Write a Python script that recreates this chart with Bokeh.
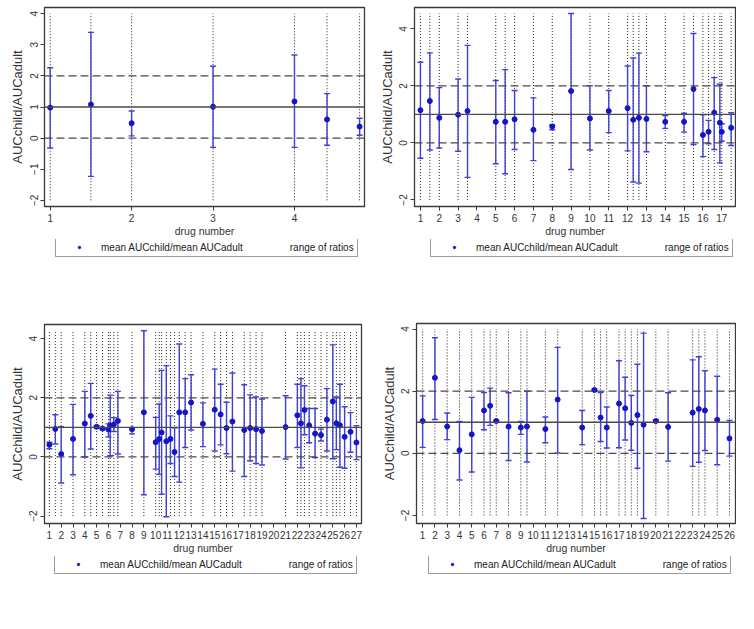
from bokeh.plotting import figure
from bokeh.models import Range1d, Span, Legend, LegendItem, Label, FixedTicker
from bokeh.layouts import column, row
from bokeh.embed import file_html
from bokeh.resources import INLINE

# ---------------- data ----------------
# Panel A
a_drug = [1, 1.5, 2, 3, 4, 4.4, 4.8]
a_mean = [0.98, 1.08, 0.48, 1.01, 1.18, 0.60, 0.37]
a_low = [-0.32, -1.23, 0.07, -0.30, -0.30, -0.23, 0.09]
a_high = [2.26, 3.40, 0.87, 2.31, 2.67, 1.43, 0.64]
a_xticks = [1, 2, 3, 4]
a_yticks = [-2, -1, 0, 1, 2, 3, 4]

# Panel B
b_drug = [1, 1.5, 2, 3, 3.5, 5, 5.5, 6, 7, 8, 9, 10, 11, 12, 12.3, 12.6, 13,
          14, 15, 15.5, 16, 16.3, 16.6, 16.9, 17, 17.5]
b_mean = [1.15, 1.47, 0.88, 0.99, 1.12, 0.74, 0.74, 0.83, 0.46, 0.58, 1.82, 0.86,
          1.12, 1.22, 0.81, 0.88, 0.84, 0.74, 0.74, 1.89, 0.28, 0.39, 1.06, 0.71,
          0.39, 0.53]
b_high = [2.83, 3.16, 1.94, 2.24, 3.42, 2.19, 2.57, 1.84, 1.58, 0.63, 4.54, 2.00,
          1.84, 2.70, 2.98, 3.15, 2.00, 0.96, 1.04, 3.84, 0.99, 0.79, 2.29, 2.06,
          0.67, 1.06]
b_low = [-0.54, -0.25, -0.18, -0.29, -1.21, -0.73, -1.08, -0.23, -0.62, 0.46, -0.93,
         -0.25, 0.36, -0.28, -1.37, -1.41, -0.31, 0.51, 0.38, -0.06, -0.48, -0.03,
         -0.23, -0.70, 0.06, -0.09]
b_xticks = list(range(1, 18))
b_yticks = [-2, 0, 2, 4]

# Panel C
c_drug = [1, 1.5, 2, 3, 4, 4.5, 5, 5.5, 6, 6.15, 6.45, 6.8, 8, 9, 10, 10.3, 10.5,
          10.9, 11.25, 11.6, 12, 12.5, 13, 14, 15, 15.5, 16, 16.5, 17.5, 18, 18.5,
          19, 21, 22, 22.3, 22.6, 23, 23.5, 24, 24.5, 25, 25.3, 25.6, 26, 26.5, 27]
c_mean = [0.41, 0.95, 0.10, 0.61, 1.13, 1.39, 1.02, 0.96, 0.93, 1.06, 1.10, 1.22,
          0.94, 1.51, 0.50, 0.61, 0.83, 0.53, 0.61, 0.17, 1.51, 1.51, 1.84, 1.12,
          1.60, 1.44, 0.98, 1.20, 0.91, 0.98, 0.94, 0.88, 1.01, 1.41, 1.14, 1.59,
          1.07, 0.79, 0.74, 1.26, 1.88, 1.14, 1.07, 0.68, 0.85, 0.49]
c_high = [0.50, 1.43, 1.02, 1.78, 2.22, 2.49, 1.06, 0.99, 1.12, 2.09, 1.33, 2.22,
          0.99, 4.27, 1.34, 1.79, 2.93, 3.09, 1.39, 0.99, 3.82, 2.65, 2.78, 1.83,
          2.97, 2.46, 1.85, 2.84, 2.44, 2.10, 2.03, 1.96, 2.07, 2.46, 2.65, 2.41,
          1.64, 1.64, 0.94, 2.31, 3.79, 2.03, 2.46, 1.70, 1.50, 1.06]
c_low = [0.28, 0.44, -0.88, -0.60, 0.00, 0.27, 0.98, 0.93, 0.68, 0.04, 0.86, 0.10,
         0.78, -1.28, -0.41, -0.59, -1.26, -2.02, -0.22, -0.66, -0.85, 0.32, 0.91,
         0.35, 0.20, 0.41, 0.11, -0.48, -0.66, -0.13, -0.22, -0.27, -0.07, 0.32,
         -0.37, 0.75, 0.48, -0.02, 0.54, 0.20, -0.06, 0.25, -0.35, -0.38, 0.16, -0.09]
c_xticks = list(range(1, 28))
c_yticks = [-2, 0, 2, 4]

# Panel D
d_drug = [1, 2, 3, 4, 5, 6, 6.5, 7, 8, 9, 9.5, 11, 12, 14, 15, 15.5, 16, 17, 17.5,
          18, 18.5, 19, 20, 21, 23, 23.5, 24, 25, 26]
d_mean = [1.04, 2.43, 0.86, 0.10, 0.61, 1.38, 1.53, 1.04, 0.86, 0.83, 0.86, 0.78,
          1.73, 0.83, 2.04, 1.15, 0.83, 1.60, 1.45, 0.98, 1.23, 0.92, 1.04, 0.85,
          1.31, 1.43, 1.38, 1.08, 0.48]
d_high = [1.85, 3.72, 1.30, 1.03, 1.80, 1.96, 2.10, 1.07, 1.95, 1.03, 2.00, 1.17,
          3.41, 1.38, 2.07, 1.96, 1.49, 2.98, 2.45, 1.86, 2.87, 3.87, 1.08, 1.95,
          3.01, 3.11, 2.66, 2.48, 1.06]
d_low = [0.19, 1.09, 0.44, -0.86, -0.60, 0.76, 0.90, 1.01, -0.23, 0.61, -0.28, 0.34,
         0.01, 0.28, 2.01, 0.38, 0.17, 0.18, 0.43, 0.10, -0.48, -2.10, 1.01, -0.25,
         -0.42, -0.29, 0.09, -0.37, -0.09]
d_xticks = list(range(1, 27))
d_yticks = [-2, 0, 2, 4]

ref_solid = [1]
ref_dashed = [0, 2]
dot_floor = -2
dot_ceiling_min = 4

legend_labels = ["mean AUCchild/mean AUCadult", "range of ratios"]
x_title = "drug number"
y_title = "AUCchild/AUCadult"

# ---------------- style ----------------
FONT = "Liberation Sans"
PT = "#1414c8"
BAR = "#4040d8"
DARK = "#3a3a3a"


def make_plot(drug, mean, low, high, xr, yr, xticks, yticks, width, height, bl, br, bt, bb):
    p = figure(width=width, height=height, x_range=Range1d(*xr), y_range=Range1d(*yr),
               output_backend="svg", toolbar_location=None, tools="",
               min_border_left=bl, min_border_right=br, min_border_top=bt,
               min_border_bottom=bb)
    p.xgrid.visible = False
    p.ygrid.visible = False
    p.outline_line_color = DARK
    p.outline_line_width = 1.3

    n = len(drug)
    top = max(dot_ceiling_min, max(high))
    p.segment(x0=drug, y0=[dot_floor] * n, x1=drug, y1=[top] * n,
              line_color="#202020", line_width=1, line_dash="1 2")
    for loc in ref_dashed:
        p.add_layout(Span(location=loc, dimension="width", line_color="#4a4a4a",
                          line_width=1.3, line_dash="8 4"))
    for loc in ref_solid:
        p.add_layout(Span(location=loc, dimension="width", line_color="#4a4a4a",
                          line_width=1.3))

    p.segment(x0=drug, y0=low, x1=drug, y1=high, line_color=BAR, line_width=1.4)
    p.scatter(drug, low, marker="dash", size=6, line_color=BAR, line_width=1.4)
    p.scatter(drug, high, marker="dash", size=6, line_color=BAR, line_width=1.4)
    p.scatter(drug, mean, marker="circle", size=5, fill_color=PT, line_color=PT)

    for ax in (p.xaxis, p.yaxis):
        ax.major_label_text_font = FONT
        ax.major_label_text_font_size = "10px"
        ax.major_label_text_color = "#333333"
        ax.axis_label_text_font = FONT
        ax.axis_label_text_font_size = "10.5px"
        ax.axis_label_text_font_style = "normal"
        ax.axis_label_text_color = "#333333"
        ax.axis_label_standoff = 0
        ax.major_label_standoff = 3
        ax.major_tick_out = 4
        ax.major_tick_in = 0
        ax.minor_tick_out = 0
        ax.minor_tick_in = 0
        ax.axis_line_color = DARK
        ax.major_tick_line_color = DARK
    p.yaxis.axis_label_text_font_size = "13px"
    p.yaxis.axis_label_standoff = 2
    p.xaxis.ticker = FixedTicker(ticks=xticks)
    p.yaxis.ticker = FixedTicker(ticks=yticks)
    p.yaxis.major_label_orientation = "vertical"
    p.xaxis.axis_label = x_title
    p.yaxis.axis_label = y_title
    return p


def make_legend(drug, mean, width, height, bl, br, lx, ly, letter, tx, ty):
    fw = width - bl - br
    f = figure(width=width, height=height, x_range=Range1d(0, fw),
               y_range=Range1d(0, height), output_backend="svg",
               toolbar_location=None, tools="", x_axis_type=None, y_axis_type=None,
               min_border_left=bl, min_border_right=br, min_border_top=0,
               min_border_bottom=0)
    f.outline_line_color = None
    # hidden renderers that only supply the legend glyphs
    pts = f.scatter(drug, mean, marker="circle", size=5, fill_color=PT, line_color=PT,
                    visible=False)
    cap_r = f.rect(x=[], y=[], width=1, height=1, fill_color=None, line_color=BAR,
                   line_width=1.4, line_dash="0 32 5 32 5", visible=False)
    bar_r = f.line(x=[], y=[], line_color=BAR, line_width=1.4, line_dash="0 4 32 4",
                   visible=False)
    leg = Legend(items=[LegendItem(label=legend_labels[0], renderers=[pts]),
                        LegendItem(label=legend_labels[1], renderers=[cap_r, bar_r])],
                 orientation="horizontal", location=(lx, ly), click_policy="none",
                 border_line_color=DARK, border_line_width=1,
                 padding=3, spacing=5, glyph_width=40, glyph_height=6,
                 label_standoff=2, label_height=12, margin=0,
                 label_text_font=FONT, label_text_font_size="10px",
                 label_text_color="#222222", background_fill_color="white")
    f.add_layout(leg)
    f.add_layout(Label(x=tx, y=ty, text=letter, text_font=FONT, text_font_size="18px",
                       text_font_style="bold", text_color="#111111",
                       text_baseline="alphabetic"))
    return f


pa = make_plot(a_drug, a_mean, a_low, a_high, (0.93, 4.86), (-2.2, 4.2),
               a_xticks, a_yticks, 366, 239, 44, 2, 7, 31)
la = make_legend(a_drug, a_mean, 366, 66, 44, 2, 11, 48, "A", -38, 23)
pb = make_plot(b_drug, b_mean, b_low, b_high, (0.685, 17.73), (-2.23, 4.75),
               b_xticks, b_yticks, 370, 239, 48, 1, 7, 31)
lb = make_legend(b_drug, b_mean, 370, 66, 48, 1, 16, 48, "B", -35, 23)
pc = make_plot(c_drug, c_mean, c_low, c_high, (0.585, 27.43), (-2.25, 4.48),
               c_xticks, c_yticks, 366, 251, 44, 5, 19, 31)
lc = make_legend(c_drug, c_mean, 366, 57, 44, 5, 10, 39, "C", -38, 10)
pd = make_plot(d_drug, d_mean, d_low, d_high, (0.5, 26.49), (-2.26, 4.18),
               d_xticks, d_yticks, 370, 251, 50, 1, 18, 31)
ld = make_legend(d_drug, d_mean, 370, 57, 50, 1, 12, 39, "D", -36, 10)

layout = column(row(column(pa, la), column(pb, lb)),
                row(column(pc, lc), column(pd, ld)))
open("out.html", "w").write(file_html(layout, INLINE))
